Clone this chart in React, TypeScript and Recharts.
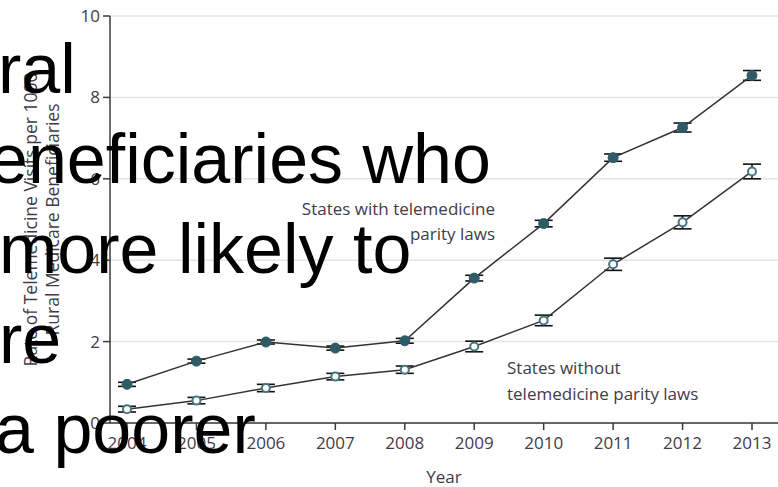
import { ComposedChart, Line, XAxis, YAxis, CartesianGrid, ErrorBar, Label } from "recharts";

const years = [2004, 2005, 2006, 2007, 2008, 2009, 2010, 2011, 2012, 2013];
const withParity = [0.95, 1.52, 1.99, 1.84, 2.02, 3.56, 4.9, 6.52, 7.26, 8.54];
const withParityCI = [0.05, 0.05, 0.05, 0.05, 0.06, 0.07, 0.08, 0.09, 0.11, 0.12];
const withoutParity = [0.34, 0.55, 0.86, 1.14, 1.31, 1.88, 2.52, 3.9, 4.93, 6.18];
const withoutParityCI = [0.07, 0.08, 0.09, 0.08, 0.09, 0.13, 0.13, 0.15, 0.16, 0.18];
const yTicks = [0, 2, 4, 6, 8, 10];

const overlayLines = [
  { text: "ral", left: -2 },
  { text: "eneficiaries who", left: -11 },
  { text: "more likely to", left: -1 },
  { text: "re", left: -1 },
  { text: "a poorer", left: -5 },
];

const data = years.map((year, i) => ({
  year,
  withParity: withParity[i],
  withParityCI: withParityCI[i],
  withoutParity: withoutParity[i],
  withoutParityCI: withoutParityCI[i],
}));

const chartFont = "'Open Sans', 'DejaVu Sans', sans-serif";
const textColor = "#3f3b4a";
const teal = "#2f5b66";

function YTitle(props: any) {
  const vb = props.viewBox || {};
  const cy = (vb.y || 0) + (vb.height || 0) / 2;
  return (
    <g fontFamily={chartFont} fontSize={17.5} fill={textColor} textAnchor="middle">
      <text x={30} y={cy} transform={`rotate(-90, 30, ${cy})`} dominantBaseline="central">
        Rate of Telemedicine Visits per 1000
      </text>
      <text x={52} y={cy} transform={`rotate(-90, 52, ${cy})`} dominantBaseline="central">
        Rural Medicare Beneficiaries
      </text>
    </g>
  );
}

export default function App() {
  return (
    <div
      style={{
        position: "absolute",
        top: 0,
        left: 0,
        width: 778,
        height: 487,
        overflow: "hidden",
        background: "#fff",
      }}
    >
      <ComposedChart width={778} height={487} data={data} margin={{ top: 16, right: 0, bottom: 0, left: 0 }}>
        <CartesianGrid vertical={false} stroke="#e4e4e4" strokeWidth={1.5} />
        <XAxis
          dataKey="year"
          type="number"
          domain={[2004, 2013]}
          ticks={years}
          padding={{ left: 17, right: 26 }}
          height={64}
          axisLine={{ stroke: "#3a3a3a", strokeWidth: 1.5 }}
          tickLine={{ stroke: "#3a3a3a", strokeWidth: 1.5 }}
          tickSize={7}
          tickMargin={7}
          tick={{ fill: textColor, fontSize: 17, fontFamily: chartFont }}
        >
          <Label
            value="Year"
            position="insideBottom"
            offset={4}
            fill={textColor}
            fontSize={17}
            fontFamily={chartFont}
          />
        </XAxis>
        <YAxis
          domain={[0, 10]}
          ticks={yTicks}
          width={110}
          axisLine={{ stroke: "#3a3a3a", strokeWidth: 1.5 }}
          tickLine={{ stroke: "#3a3a3a", strokeWidth: 1.5 }}
          tickSize={7}
          tickMargin={3}
          tick={{ fill: textColor, fontSize: 17, fontFamily: chartFont }}
        >
          <Label content={<YTitle />} />
        </YAxis>
        <Line
          dataKey="withParity"
          stroke="#333"
          strokeWidth={1.5}
          isAnimationActive={false}
          dot={{ r: 5, fill: teal, stroke: teal, strokeWidth: 1 }}
        >
          <ErrorBar dataKey="withParityCI" width={9} stroke="#111" strokeWidth={1.6} direction="y" />
        </Line>
        <Line
          dataKey="withoutParity"
          stroke="#333"
          strokeWidth={1.5}
          isAnimationActive={false}
          dot={{ r: 4, fill: "#fff", stroke: "#4a7580", strokeWidth: 2 }}
        >
          <ErrorBar dataKey="withoutParityCI" width={9} stroke="#111" strokeWidth={1.6} direction="y" />
        </Line>
      </ComposedChart>

      <div
        style={{
          position: "absolute",
          right: 778 - 495,
          top: 196,
          fontFamily: chartFont,
          fontSize: 17,
          lineHeight: "25px",
          color: textColor,
          textAlign: "right",
          whiteSpace: "nowrap",
        }}
      >
        States with telemedicine
        <br />
        parity laws
      </div>
      <div
        style={{
          position: "absolute",
          left: 507,
          top: 355,
          fontFamily: chartFont,
          fontSize: 17,
          lineHeight: "26px",
          color: textColor,
          whiteSpace: "nowrap",
        }}
      >
        States without
        <br />
        telemedicine parity laws
      </div>

      {overlayLines.map((line, i) => (
        <div
          key={i}
          style={{
            position: "absolute",
            left: line.left,
            top: 24 + i * 90,
            fontFamily: "'Liberation Sans', Arial, sans-serif",
            fontSize: 70,
            lineHeight: "90px",
            color: "#000",
            whiteSpace: "nowrap",
          }}
        >
          {line.text}
        </div>
      ))}
    </div>
  );
}
